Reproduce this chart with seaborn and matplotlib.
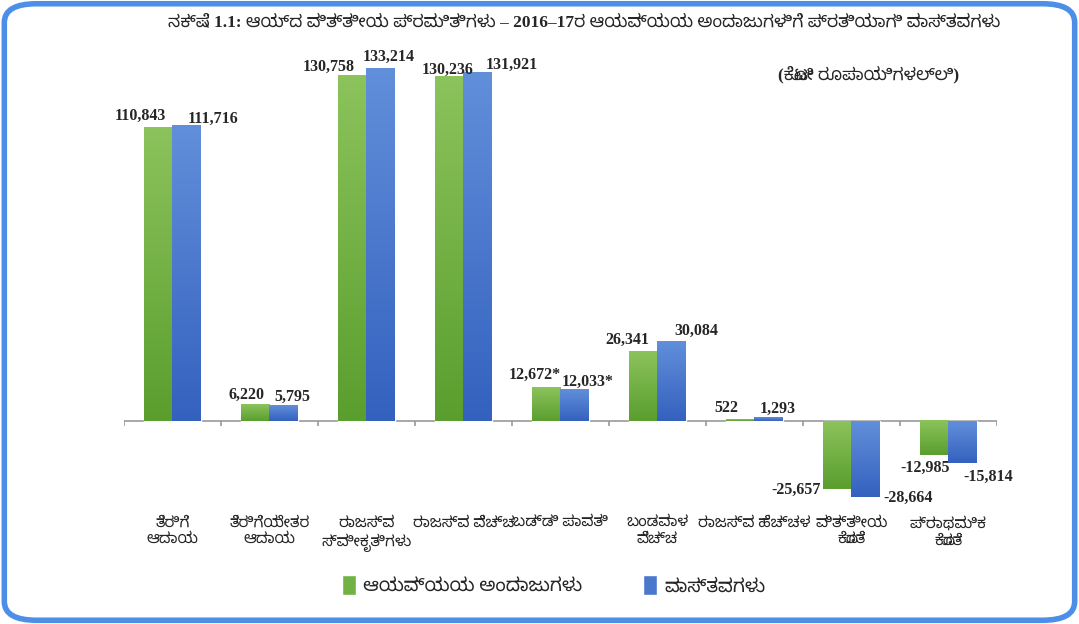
import matplotlib
matplotlib.use("Agg")
import matplotlib.pyplot as plt
from matplotlib.patches import FancyBboxPatch
from matplotlib.colors import LinearSegmentedColormap
import seaborn as sns
import pandas as pd
import numpy as np

categories = ["ತೆರಿಗೆ\nಆದಾಯ", "ತೆರಿಗೆಯೇತರ\nಆದಾಯ", "ರಾಜಸ್ವ\nಸ್ವೀಕೃತಿಗಳು", "ರಾಜಸ್ವ ವೆಚ್ಚ",
              "ಬಡ್ಡಿ ಪಾವತಿ", "ಬಂಡವಾಳ\nವೆಚ್ಚ", "ರಾಜಸ್ವ ಹೆಚ್ಚಳ", "ವಿತ್ತೀಯ\nಕೊರತೆ", "ಪ್ರಾಥಮಿಕ\nಕೊರತೆ"]
budget = [110843, 6220, 130758, 130236, 12672, 26341, 522, -25657, -12985]
actual = [111716, 5795, 133214, 131921, 12033, 30084, 1293, -28664, -15814]
label_suffix = ["", "", "", "", "*", "", "", "", ""]
series_names = ["ಆಯವ್ಯಯ ಅಂದಾಜುಗಳು", "ವಾಸ್ತವಗಳು"]
title = "ನಕ್ಷೆ 1.1: ಆಯ್ದ ವಿತ್ತೀಯ ಪ್ರಮಿತಿಗಳು – 2016–17ರ ಆಯವ್ಯಯ ಅಂದಾಜುಗಳಿಗೆ ಪ್ರತಿಯಾಗಿ ವಾಸ್ತವಗಳು"
subtitle = "(ಕೋಟಿ ರೂಪಾಯಿಗಳಲ್ಲಿ)"

# label layout: (dx in category units, offset in pixels, ha) per series
green_layout = [(-0.066, 8, "right"), (-0.05, 6, "right"), (-0.117, 4, "right"), (0.10, 3, "right"),
                (0.0, 9, "right"), (-0.088, 7, "right"), (-0.165, 8, "right"), (-0.32, -1, "right"),
                (0.02, -13, "right")]
blue_layout = [(0.16, 3, "left"), (0.05, 5, "left"), (-0.034, 8, "left"), (0.225, 3, "left"),
               (0.015, 3, "left"), (0.17, 7, "left"), (0.05, 5, "left"), (0.33, -1, "left"),
               (0.155, -14, "left")]

sns.set_theme(style="white")
plt.rcParams['font.family'] = ["Liberation Serif", "Noto Sans Kannada", "DejaVu Sans"]

df = pd.DataFrame({
    "cat": categories * 2,
    "val": budget + actual,
    "series": [series_names[0]] * 9 + [series_names[1]] * 9,
})

fig = plt.figure(figsize=(10.79, 6.24), dpi=100)
ax = fig.add_axes([0.1149, 0.1859, 0.809, 0.766])
sns.barplot(data=df, x="cat", y="val", hue="series", order=categories,
            palette=["#70B244", "#4A78CC"], width=0.59, ax=ax, legend=True,
            saturation=1, zorder=3)
YMAX, YMIN = 147800, -32890
ax.set_ylim(YMIN, YMAX)
ax.set_xlim(-0.5, 8.5)
for s in ax.spines.values():
    s.set_visible(False)
ax.set_yticks([])
ax.set_xlabel("")
ax.set_ylabel("")

# gradient fill on bars
cmaps = [LinearSegmentedColormap.from_list("g", ["#5A9E2E", "#8CC35C"]),
         LinearSegmentedColormap.from_list("b", ["#3461BE", "#628FDA"])]
grad = np.linspace(0, 1, 256).reshape(-1, 1)
bars = [p for p in ax.patches if p.get_width() > 0]
for k, p in enumerate(bars):
    x0, y0 = p.get_x(), p.get_y()
    w, h = p.get_width(), p.get_height()
    top, bot = max(y0, y0 + h), min(y0, y0 + h)
    ser = 0 if k < 9 else 1
    ax.imshow(grad, extent=(x0, x0 + w, bot, top), origin="lower", cmap=cmaps[ser],
              aspect="auto", zorder=3.5, interpolation="bilinear")
ax.set_ylim(YMIN, YMAX)
ax.set_xlim(-0.5, 8.5)
ax.set_aspect("auto")

per_px = (YMAX - YMIN) / (0.766 * 624)
ax.axhline(0, color="#999999", lw=1.2, zorder=2)
ax.vlines(np.arange(-0.5, 9, 1), -5 * per_px, 0, color="#999999", lw=1.2, zorder=2)
ax.tick_params(axis="x", length=0, pad=6, labelsize=11)
for t in ax.get_xticklabels():
    t.set_fontweight("bold")
    t.set_linespacing(1.35)

for i in range(9):
    for vals, lay in ((budget, green_layout), (actual, blue_layout)):
        v = vals[i]
        dx, off, ha = lay[i]
        txt = f"{v:,}" + label_suffix[i]
        ax.text(i + dx, v + off * per_px, txt, ha=ha, va="baseline" if v >= 0 else "center",
                fontsize=11.5, fontweight="bold", family="Liberation Serif", zorder=5)

handles, labels = ax.get_legend_handles_labels()
ax.legend_.remove()
leg = fig.legend(handles, labels, loc="center", bbox_to_anchor=(0.513, 0.062), ncol=2,
                 frameon=False, fontsize=13.5, handlelength=0.75, handleheight=1.3,
                 columnspacing=3.2, handletextpad=0.4)
for t in leg.get_texts():
    t.set_fontweight("bold")
for hnd, c in zip(leg.legend_handles, ["#70B244", "#4A78CC"]):
    hnd.set_facecolor(c)

fig.text(0.541, 0.963, title, ha="center", va="center", fontsize=12.5, fontweight="bold")
fig.text(0.805, 0.88, subtitle, ha="center", va="center", fontsize=12.5, fontweight="bold")

fig.patches.append(FancyBboxPatch((0.004, 0.006), 0.992, 0.988,
                                  boxstyle="round,pad=0,rounding_size=0.03",
                                  transform=fig.transFigure, fill=False, ec="#4D8FE8", lw=4))
fig.savefig("out.png", dpi=100)
